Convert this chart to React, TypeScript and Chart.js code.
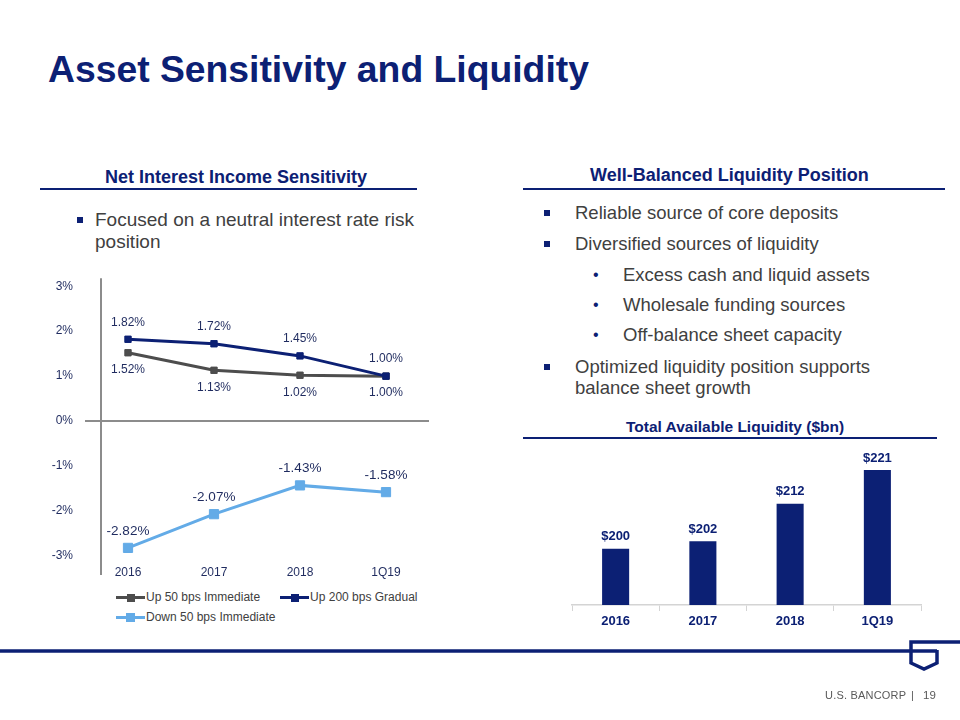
import React, { useEffect, useRef } from "react";
import { Chart, registerables } from "chart.js";

Chart.register(...registerables);

// ---------- data ----------
const lineCategories = ["2016", "2017", "2018", "1Q19"];
const up50Immediate = [1.52, 1.13, 1.02, 1.0];
const up200Gradual = [1.82, 1.72, 1.45, 1.0];
const down50Immediate = [-2.82, -2.07, -1.43, -1.58];
const yTickValues = [-3, -2, -1, 0, 1, 2, 3];

const barCategories = ["2016", "2017", "2018", "1Q19"];
const liquidityValues = [200, 202, 212, 221];

// ---------- styles ----------
const NAVY = "#0c2074";
const GRAY_LINE = "#4d4d4d";
const LIGHT_BLUE = "#63abe7";
const LABEL_NAVY = "#1f2b5f";
const TEXT_GRAY = "#404040";
const FONT = "'Liberation Sans', Arial, sans-serif";

const axisLinePlugin = {
  id: "axisLine",
  beforeDatasetsDraw(chart: any) {
    const { ctx, chartArea } = chart;
    const x = chartArea.left + 16;
    ctx.save();
    ctx.strokeStyle = "#8c8c8c";
    ctx.lineWidth = 2;
    ctx.beginPath();
    ctx.moveTo(x, chartArea.top);
    ctx.lineTo(x, chartArea.bottom + 12);
    ctx.stroke();
    ctx.restore();
  },
};

const lineLabelPlugin = {
  id: "lineLabels",
  afterDatasetsDraw(chart: any) {
    const { ctx } = chart;
    ctx.save();
    ctx.textAlign = "center";
    ctx.textBaseline = "middle";
    chart.data.datasets.forEach((ds: any, i: number) => {
      const meta = chart.getDatasetMeta(i);
      ctx.fillStyle = LABEL_NAVY;
      ctx.font = `${ds.labelSize}px ${FONT}`;
      meta.data.forEach((pt: any, j: number) => {
        const v = ds.data[j] as number;
        const dy = ds.labelPos === "below" ? 17 : -17;
        ctx.fillText(v.toFixed(2) + "%", pt.x, pt.y + dy);
      });
    });
    ctx.restore();
  },
};

const barLabelPlugin = {
  id: "barLabels",
  afterDatasetsDraw(chart: any) {
    const { ctx } = chart;
    ctx.save();
    ctx.textAlign = "center";
    ctx.textBaseline = "middle";
    ctx.fillStyle = NAVY;
    ctx.font = `bold 13px ${FONT}`;
    const meta = chart.getDatasetMeta(0);
    meta.data.forEach((bar: any, j: number) => {
      ctx.fillText("$" + chart.data.datasets[0].data[j], bar.x, bar.y - 12);
    });
    ctx.restore();
  },
};

function LineChart() {
  const ref = useRef<HTMLCanvasElement>(null);
  useEffect(() => {
    if (!ref.current) return;
    const chart = new Chart(ref.current, {
      type: "line",
      data: {
        labels: lineCategories,
        datasets: [
          {
            label: "Up 50 bps Immediate",
            data: up50Immediate,
            borderColor: GRAY_LINE,
            backgroundColor: GRAY_LINE,
            borderWidth: 3,
            pointStyle: "rect",
            pointRadius: 4.5,
            pointBorderWidth: 1,
            order: 1,
            labelPos: "below",
            labelSize: 12,
          } as any,
          {
            label: "Up 200 bps Gradual",
            data: up200Gradual,
            borderColor: NAVY,
            backgroundColor: NAVY,
            borderWidth: 3,
            pointStyle: "rect",
            pointRadius: 4.5,
            pointBorderWidth: 1,
            order: 0,
            labelPos: "above",
            labelSize: 12,
          } as any,
          {
            label: "Down 50 bps Immediate",
            data: down50Immediate,
            borderColor: LIGHT_BLUE,
            backgroundColor: LIGHT_BLUE,
            borderWidth: 3,
            pointStyle: "rect",
            pointRadius: 6.5,
            pointBorderWidth: 1,
            order: 2,
            labelPos: "above",
            labelSize: 13.5,
          } as any,
        ],
      },
      options: {
        animation: false,
        responsive: false,
        maintainAspectRatio: false,
        layout: { padding: { top: 0, right: 11, left: 0, bottom: 0 } },
        plugins: { legend: { display: false }, tooltip: { enabled: false } },
        scales: {
          x: {
            offset: true,
            grid: { display: false, drawTicks: false },
            border: { display: false },
            ticks: { color: LABEL_NAVY, font: { size: 12, family: FONT }, padding: 2 },
            afterFit: (s: any) => {
              s.height = 27;
            },
          },
          y: {
            min: -3.156,
            max: 3.178,
            afterBuildTicks: (s: any) => {
              s.ticks = yTickValues.map((v) => ({ value: v }));
            },
            ticks: {
              callback: (v: any) => v + "%",
              padding: 12,
              color: LABEL_NAVY,
              font: { size: 12, family: FONT },
            },
            grid: {
              drawTicks: false,
              color: (c: any) => (c.tick && c.tick.value === 0 ? "#8c8c8c" : "rgba(0,0,0,0)"),
              lineWidth: 2,
            },
            border: { display: false },
            afterFit: (s: any) => {
              s.width = 45;
            },
          },
        },
      } as any,
      plugins: [axisLinePlugin, lineLabelPlugin],
    });
    return () => chart.destroy();
  }, []);
  return <canvas ref={ref} width={400} height={331} style={{ position: "absolute", left: 40, top: 259 }} />;
}

function BarChart() {
  const ref = useRef<HTMLCanvasElement>(null);
  useEffect(() => {
    if (!ref.current) return;
    const chart = new Chart(ref.current, {
      type: "bar",
      data: {
        labels: barCategories,
        datasets: [
          {
            label: "Total Available Liquidity",
            data: liquidityValues,
            backgroundColor: NAVY,
            barPercentage: 0.31,
            categoryPercentage: 1,
          },
        ],
      },
      options: {
        animation: false,
        responsive: false,
        maintainAspectRatio: false,
        layout: { padding: { top: 15, right: 39, left: 32, bottom: 0 } },
        plugins: { legend: { display: false }, tooltip: { enabled: false } },
        scales: {
          x: {
            grid: { drawOnChartArea: false, color: "#d4d4d4", tickLength: 6, lineWidth: 1 },
            border: { color: "#d4d4d4", width: 1.5 },
            ticks: { color: NAVY, font: { size: 13, weight: "bold", family: FONT }, padding: 3 },
            afterFit: (s: any) => {
              s.height = 35;
            },
          },
          y: { display: false, min: 185, max: 225 },
        },
      } as any,
      plugins: [barLabelPlugin],
    });
    return () => chart.destroy();
  }, []);
  return <canvas ref={ref} width={420} height={200} style={{ position: "absolute", left: 540, top: 440 }} />;
}

function Txt(props: {
  x: number;
  cy: number;
  size: number;
  lh?: number;
  bold?: boolean;
  color?: string;
  children: React.ReactNode;
}) {
  const lh = props.lh ?? Math.round(props.size * 1.2);
  return (
    <div
      style={{
        position: "absolute",
        left: props.x,
        top: props.cy - lh / 2,
        fontSize: props.size,
        lineHeight: lh + "px",
        fontWeight: props.bold ? "bold" : "normal",
        color: props.color ?? TEXT_GRAY,
        whiteSpace: "nowrap",
      }}
    >
      {props.children}
    </div>
  );
}

function Square(props: { cx: number; cy: number }) {
  return (
    <div
      style={{
        position: "absolute",
        left: props.cx - 3,
        top: props.cy - 3,
        width: 6,
        height: 6,
        background: NAVY,
      }}
    />
  );
}

function LegendIcon(props: { color: string; marker: number }) {
  return (
    <span style={{ position: "relative", display: "inline-block", width: 29, height: 12, marginRight: 1 }}>
      <span style={{ position: "absolute", left: 0, top: 5, width: 29, height: 3, background: props.color }} />
      <span
        style={{
          position: "absolute",
          left: 14.5 - props.marker / 2,
          top: 6.5 - props.marker / 2,
          width: props.marker,
          height: props.marker,
          background: props.color,
        }}
      />
    </span>
  );
}

function LegendItem(props: { color: string; marker: number; label: string }) {
  return (
    <div style={{ display: "flex", alignItems: "center", fontSize: 12, color: TEXT_GRAY, lineHeight: "14px" }}>
      <LegendIcon color={props.color} marker={props.marker} />
      <span>{props.label}</span>
    </div>
  );
}

export default function App() {
  const rightBullets = [
    { t: "Reliable source of core deposits", y: 213, sub: false },
    { t: "Diversified sources of liquidity", y: 244, sub: false },
    { t: "Excess cash and liquid assets", y: 275, sub: true },
    { t: "Wholesale funding sources", y: 305, sub: true },
    { t: "Off-balance sheet capacity", y: 335, sub: true },
  ];
  return (
    <div
      style={{
        position: "fixed",
        left: 0,
        top: 0,
        width: 960,
        height: 720,
        background: "#ffffff",
        overflow: "hidden",
        fontFamily: FONT,
      }}
    >
      <Txt x={48} cy={69} size={37.3} lh={44} bold color={NAVY}>
        Asset Sensitivity and Liquidity
      </Txt>

      {/* Left header */}
      <Txt x={105} cy={177} size={18} lh={22} bold color={NAVY}>
        Net Interest Income Sensitivity
      </Txt>
      <Square cx={80} cy={220} />
      <Txt x={95} cy={220} size={19} lh={22}>
        Focused on a neutral interest rate risk
      </Txt>
      <Txt x={95} cy={242} size={19} lh={22}>
        position
      </Txt>

      {/* Right header */}
      <Txt x={590} cy={175} size={18} lh={22} bold color={NAVY}>
        Well-Balanced Liquidity Position
      </Txt>
      {rightBullets.map((b, i) =>
        b.sub ? (
          <React.Fragment key={i}>
            <Txt x={593} cy={b.y} size={16} lh={20} color={NAVY}>
              •
            </Txt>
            <Txt x={623} cy={b.y} size={18.5} lh={22}>
              {b.t}
            </Txt>
          </React.Fragment>
        ) : (
          <React.Fragment key={i}>
            <Square cx={547} cy={b.y} />
            <Txt x={575} cy={b.y} size={18.5} lh={22}>
              {b.t}
            </Txt>
          </React.Fragment>
        )
      )}
      <Square cx={547} cy={367} />
      <Txt x={575} cy={367} size={18.5} lh={22}>
        Optimized liquidity position supports
      </Txt>
      <Txt x={575} cy={388} size={18.5} lh={22}>
        balance sheet growth
      </Txt>

      <Txt x={626} cy={427} size={15.5} lh={20} bold color={NAVY}>
        Total Available Liquidity ($bn)
      </Txt>

      <LineChart />
      <BarChart />

      {/* Legend */}
      <div style={{ position: "absolute", left: 116, top: 590, display: "flex", gap: 20 }}>
        <LegendItem color={GRAY_LINE} marker={8} label="Up 50 bps Immediate" />
        <LegendItem color={NAVY} marker={8} label="Up 200 bps Gradual" />
      </div>
      <div style={{ position: "absolute", left: 116, top: 610, display: "flex" }}>
        <LegendItem color={LIGHT_BLUE} marker={9} label="Down 50 bps Immediate" />
      </div>

      {/* Rules and footer */}
      <svg width={960} height={720} style={{ position: "absolute", left: 0, top: 0, pointerEvents: "none" }}>
        <line x1={40} y1={189} x2={417} y2={189} stroke={NAVY} strokeWidth={2} />
        <line x1={523} y1={189} x2={945} y2={189} stroke={NAVY} strokeWidth={2} />
        <line x1={523} y1={438} x2={937} y2={438} stroke={NAVY} strokeWidth={2} />
        <line x1={0} y1={651} x2={937} y2={651} stroke={NAVY} strokeWidth={3.5} />
        <path d="M960 642 H911 V663 L924 669 L937 663 V650" fill="none" stroke={NAVY} strokeWidth={3.5} />
      </svg>
      <Txt x={825} cy={695} size={11} lh={14} color="#595959">
        <span style={{ letterSpacing: 0.2 }}>U.S. BANCORP</span>
      </Txt>
      <Txt x={911} cy={695} size={11} lh={14} color="#595959">
        |
      </Txt>
      <Txt x={923} cy={695} size={11.5} lh={14} color="#595959">
        19
      </Txt>
    </div>
  );
}
